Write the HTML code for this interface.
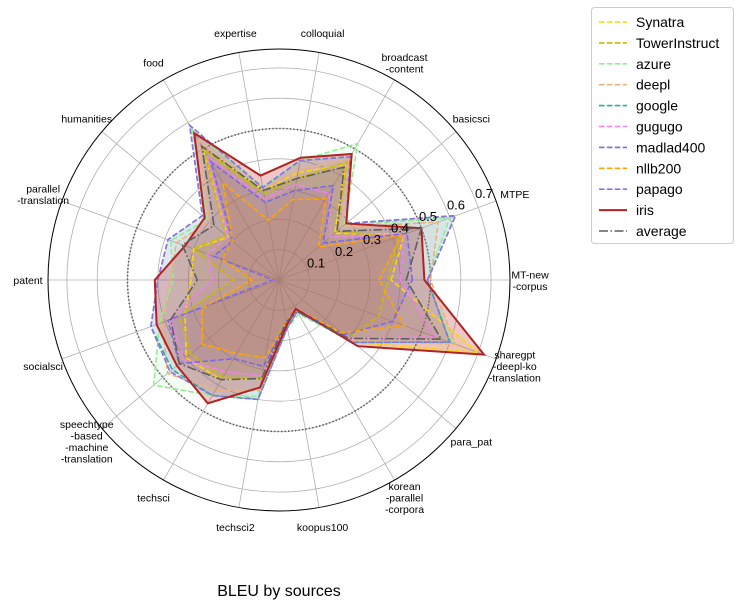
<!DOCTYPE html>
<html><head><meta charset="utf-8"><style>
body{margin:0;background:#fff;}
svg{display:block;font-family:"Liberation Sans","DejaVu Sans",sans-serif;}
</style></head><body>
<svg id="chart" width="743" height="609" viewBox="0 0 743 609" xmlns="http://www.w3.org/2000/svg">
<g id="grid"></g>
<g id="series"></g>
<g id="labels"></g>
<g id="rticks"></g>
<text x="279" y="596" text-anchor="middle" font-size="16" fill="#000">BLEU by sources</text>
<g id="legend"></g>
</svg>
<script>
const categories = [["MT-new","-corpus"],["MTPE"],["basicsci"],["broadcast","-content"],["colloquial"],["expertise"],["food"],["humanities"],["parallel","-translation"],["patent"],["socialsci"],["speechtype","-based","-machine","-translation"],["techsci"],["techsci2"],["koopus100"],["korean","-parallel","-corpora"],["para_pat"],["sharegpt","-deepl-ko","-translation"]];
const radialTicks = [0.1,0.2,0.3,0.4,0.5,0.6,0.7];
const seriesNames = ["Synatra","TowerInstruct","azure","deepl","google","gugugo","madlad400","nllb200","papago","iris","average"];
const synatra = [0.37,0.44,0.24,0.44,0.36,0.30,0.50,0.22,0.30,0.29,0.33,0.40,0.38,0.33,0.15,0.12,0.32,0.70];
const towerInstruct = [0.36,0.42,0.25,0.45,0.34,0.29,0.50,0.23,0.30,0.15,0.35,0.38,0.37,0.33,0.15,0.12,0.30,0.35];
const azure = [0.49,0.60,0.28,0.52,0.40,0.31,0.57,0.31,0.38,0.35,0.42,0.54,0.44,0.39,0.16,0.13,0.32,0.61];
const deepl = [0.50,0.56,0.27,0.46,0.37,0.30,0.53,0.30,0.36,0.36,0.41,0.48,0.42,0.37,0.16,0.12,0.31,0.62];
const google = [0.49,0.62,0.29,0.47,0.40,0.31,0.59,0.33,0.39,0.40,0.45,0.46,0.44,0.40,0.16,0.12,0.32,0.60];
const gugugo = [0.40,0.44,0.22,0.33,0.32,0.27,0.47,0.22,0.25,0.22,0.38,0.41,0.35,0.32,0.15,0.12,0.30,0.55];
const madlad400 = [0.44,0.45,0.19,0.36,0.30,0.26,0.45,0.20,0.23,0.02,0.39,0.43,0.30,0.29,0.14,0.11,0.28,0.40];
const nllb200 = [0.33,0.43,0.17,0.31,0.27,0.20,0.37,0.20,0.20,0.09,0.27,0.33,0.28,0.26,0.14,0.11,0.27,0.44];
const papago = [0.49,0.62,0.29,0.47,0.40,0.31,0.59,0.33,0.39,0.40,0.45,0.47,0.44,0.40,0.16,0.12,0.32,0.60];
const iris = [0.48,0.50,0.29,0.48,0.41,0.35,0.56,0.32,0.33,0.41,0.43,0.44,0.47,0.36,0.15,0.11,0.34,0.72];
const average = [0.42,0.50,0.25,0.43,0.34,0.30,0.51,0.28,0.34,0.27,0.38,0.43,0.38,0.33,0.14,0.12,0.30,0.57];
const seriesValues = [synatra,towerInstruct,azure,deepl,google,gugugo,madlad400,nllb200,papago,iris,average];
const seriesColors = ["#FFD700","#C8BC00","#90EE90","#EDB27C","#20B2AA","#EE82EE","#7B68EE","#FFA500","#9370DB","#B22222","#5f5f5f"];

const NS="http://www.w3.org/2000/svg";
const CX=279, CY=280, SCALE=303, ROUT=231;
function rScale(v){return v*SCALE;}
function angle(i){return i*2*Math.PI/categories.length;}
function px(i,v){return CX+rScale(v)*Math.cos(angle(i));}
function py(i,v){return CY-rScale(v)*Math.sin(angle(i));}
function mk(tag,attrs,parent){const e=document.createElementNS(NS,tag);for(const k in attrs)e.setAttribute(k,attrs[k]);parent.appendChild(e);return e;}

const grid=document.getElementById('grid');
radialTicks.forEach((t,k)=>{
  const c=mk('circle',{cx:CX,cy:CY,r:rScale(t),fill:'none',stroke:'#b0b0b0','stroke-width':0.8},grid);
  
  
});
categories.forEach((c,i)=>{
  const l=mk('line',{x1:CX,y1:CY,x2:CX+ROUT*Math.cos(angle(i)),y2:CY-ROUT*Math.sin(angle(i)),stroke:'#b0b0b0','stroke-width':0.8},grid);
  
  
});
const ref=mk('circle',{cx:CX,cy:CY,r:rScale(0.5),fill:'none',stroke:'#555','stroke-width':1.6,'stroke-dasharray':'1.3,2.2'},grid);


const outer=mk('circle',{cx:CX,cy:CY,r:ROUT,fill:'none',stroke:'#000','stroke-width':1},grid);



const sg=document.getElementById('series');
function dashFor(k){return k===9?null:(k===10?'9,2.5,1.5,2.5':'5.5,2.4');}
seriesValues.forEach((vals,k)=>{
  const pts=vals.map((v,i)=>px(i,v).toFixed(1)+','+py(i,v).toFixed(1)).join(' ');
  const f=mk('polygon',{points:pts,fill:seriesColors[k],'fill-opacity':k===9?0.25:0.1,stroke:'none'},sg);
  
  
});
seriesValues.forEach((vals,k)=>{
  const pts=vals.map((v,i)=>px(i,v).toFixed(1)+','+py(i,v).toFixed(1)).join(' ');
  const a={points:pts,fill:'none',stroke:seriesColors[k],'stroke-width':k===9?2:1.6,'stroke-linejoin':'miter'};
  const d=dashFor(k); if(d)a['stroke-dasharray']=d;
  const p=mk('polygon',a,sg);
  
  
});

const lg=document.getElementById('labels');
categories.forEach((lines,i)=>{
  const x=CX+251*Math.cos(angle(i)), y=CY-251*Math.sin(angle(i));
  const lh=11.5, y0=y-(lines.length-1)*lh/2+4;
  const t=mk('text',{x:x,y:y0,'text-anchor':'middle','font-size':10.5,fill:'#000'},lg);
  
  
  lines.forEach((s,j)=>{const ts=mk('tspan',{x:x,y:y0+j*lh},t);ts.textContent=s;});
});

const rt=document.getElementById('rticks');
const ra=22.5*Math.PI/180;
radialTicks.forEach((t,k)=>{
  const e=mk('text',{x:CX+rScale(t)*Math.cos(ra),y:CY-rScale(t)*Math.sin(ra)-1,'font-size':13,fill:'#000'},rt);
  
  
  e.textContent=t.toFixed(1);
});

const leg=document.getElementById('legend');
const box=mk('rect',{x:591.5,y:7.5,width:142,height:236,rx:3,fill:'#fff','fill-opacity':0.8,stroke:'#ccc'},leg);


seriesNames.forEach((n,k)=>{
  const y=22+k*20.9;
  const g=mk('g',{},leg);
  
  
  const a={x1:599,y1:y,x2:627,y2:y,stroke:seriesColors[k],'stroke-width':k===9?2:1.6};
  const d=dashFor(k); if(d)a['stroke-dasharray']=d;
  mk('line',a,g);
  const t=mk('text',{x:636,y:y+5,'font-size':14,fill:'#000'},g);
  t.textContent=n;
});
</script>
</body></html>
